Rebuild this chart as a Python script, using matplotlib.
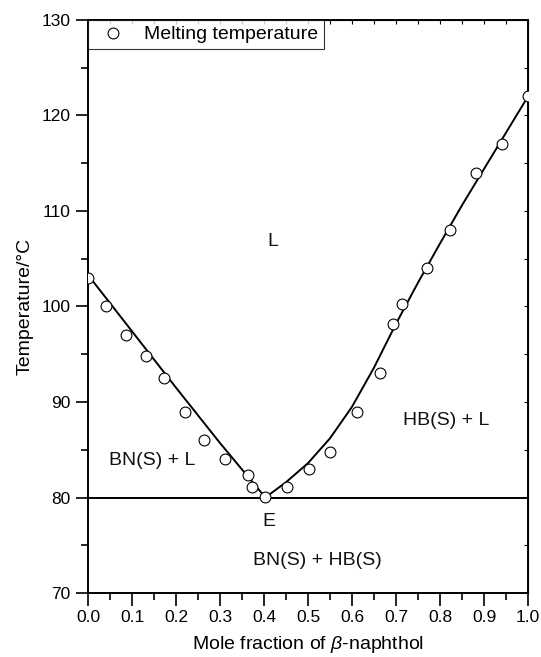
import matplotlib
matplotlib.use("Agg")
import matplotlib.pyplot as plt
from matplotlib.ticker import MultipleLocator

plt.rcParams['font.family'] = ['Liberation Sans', 'DejaVu Sans']
plt.rcParams['mathtext.fontset'] = 'custom'
plt.rcParams['mathtext.it'] = 'Liberation Sans:italic'
plt.rcParams['mathtext.rm'] = 'Liberation Sans'

# measured melting temperatures
x_meas = [0.0, 0.041, 0.087, 0.132, 0.172, 0.221, 0.263, 0.311, 0.363, 0.373,
          0.403, 0.452, 0.502, 0.551, 0.612, 0.663, 0.693, 0.713, 0.771, 0.822,
          0.881, 0.942, 1.0]
t_meas = [103.0, 100.0, 97.0, 94.8, 92.5, 89.0, 86.0, 84.0, 82.4, 81.1,
          80.1, 81.1, 83.0, 84.8, 89.0, 93.0, 98.2, 100.3, 104.0, 108.0,
          114.0, 117.0, 122.0]

# liquidus curves
x_left = [0.0, 0.1, 0.2, 0.3, 0.403]
t_left = [103.3, 97.4, 91.5, 85.7, 80.0]
x_right = [0.403, 0.45, 0.50, 0.55, 0.60, 0.65, 0.70, 0.75, 0.80, 0.85, 0.90, 0.95, 1.0]
t_right = [80.0, 81.6, 83.6, 86.2, 89.5, 93.6, 98.2, 102.5, 106.6, 110.6, 114.4, 118.2, 122.0]

# eutectic line
t_eutectic = 80.0

region_labels = ["L", "HB(S) + L", "BN(S) + L", "E", "BN(S) + HB(S)"]
region_x = [0.419, 0.813, 0.145, 0.41, 0.522]
region_t = [106.8, 88.1, 83.9, 77.5, 73.4]

fig = plt.figure(figsize=(5.41, 6.57), dpi=100)
ax = fig.add_axes([0.1627, 0.0974, 0.8133, 0.8722])

ax.plot(x_left, t_left, color='black', lw=1.4)
ax.plot(x_right, t_right, color='black', lw=1.4)
ax.axhline(t_eutectic, color='black', lw=1.4)
ax.plot(x_meas, t_meas, 'o', mfc='white', mec='black', mew=0.8, ms=7.8,
        label='Melting temperature', zorder=3)

for lab, xx, tt in zip(region_labels, region_x, region_t):
    ax.text(xx, tt, lab, ha='center', va='center', fontsize=14, color='#111111')

ax.set_xlim(0, 1.0)
ax.set_ylim(70, 130)
ax.xaxis.set_major_locator(MultipleLocator(0.1))
ax.xaxis.set_minor_locator(MultipleLocator(0.05))
ax.yaxis.set_major_locator(MultipleLocator(10))
ax.yaxis.set_minor_locator(MultipleLocator(5))
ax.xaxis.set_major_formatter(plt.FormatStrFormatter('%.1f'))

ax.tick_params(which='major', direction='out', length=9, width=1.2, labelsize=12.5)
ax.tick_params(which='minor', direction='out', length=5, width=1.2)
for s in ax.spines.values():
    s.set_linewidth(1.4)

# inner ticks on top and right
sec_x = ax.secondary_xaxis('top')
sec_x.xaxis.set_major_locator(MultipleLocator(0.05))
sec_x.tick_params(direction='in', length=3, width=0.8, labeltop=False)
sec_y = ax.secondary_yaxis('right')
sec_y.yaxis.set_major_locator(MultipleLocator(5))
sec_y.tick_params(direction='in', length=3, width=0.8, labelright=False)

ax.set_xlabel(r'Mole fraction of $\it{\beta}$-naphthol', fontsize=14, labelpad=6)
ax.set_ylabel('Temperature/°C', fontsize=14, labelpad=6)

leg = ax.legend(loc='upper left', fontsize=14, frameon=True, fancybox=False,
                borderaxespad=0.0, borderpad=0.3, handletextpad=0.6,
                edgecolor='black')
leg.get_frame().set_linewidth(0.8)

fig.savefig('out.png', dpi=100)
